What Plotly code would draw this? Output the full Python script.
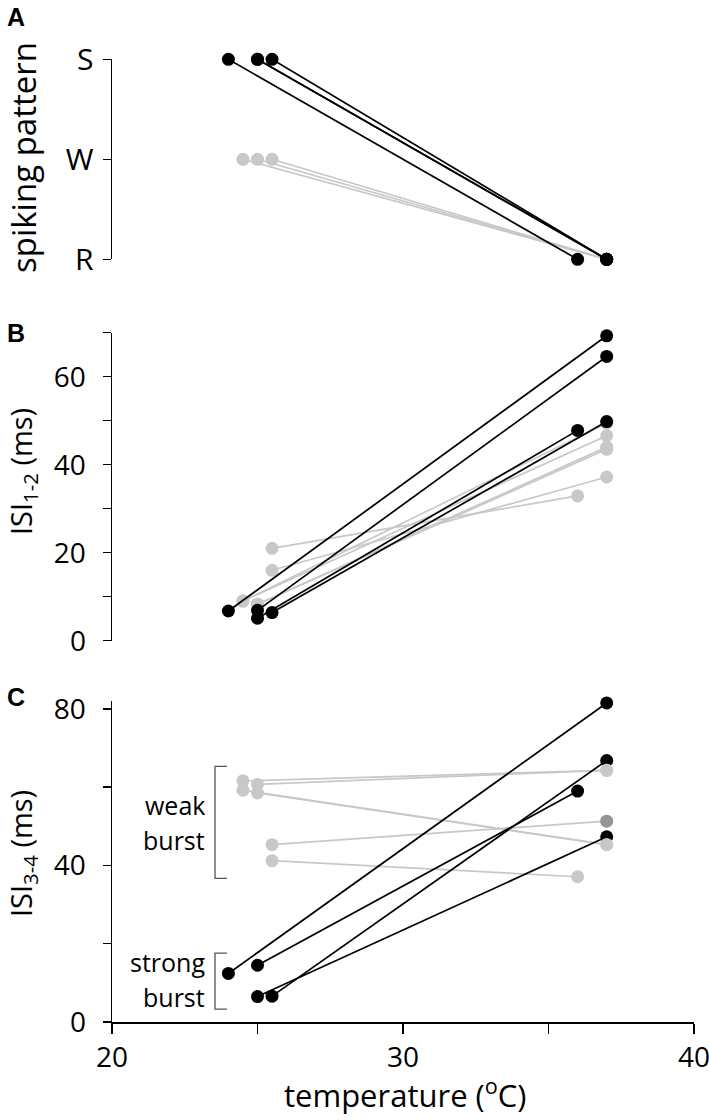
import plotly.graph_objects as go

W, H = 709, 1120
FONT = "Open Sans"
BLACK = "#000000"
GRAY = "#c8c8c8"
DARKGRAY = "#959595"

# ---------------- data ----------------
# Panel A: spiking pattern (categorical)
pattern_levels = ["R", "W", "S"]
a_black_cold_t = [24, 25, 25, 25.5]
a_black_cold = ["S", "S", "S", "S"]
a_black_warm_t = [36, 37, 37, 37]
a_black_warm = ["R", "R", "R", "R"]
a_gray_cold_t = [24.5, 25, 25.5]
a_gray_cold = ["W", "W", "W"]
a_gray_warm_t = [37, 37, 37]
a_gray_warm = ["R", "R", "R"]

# Panel B: ISI 1-2 (ms)
b_black_cold_t = [24, 25, 25, 25.5]
b_black_cold = [6.75, 6.9, 5.1, 6.4]
b_black_warm_t = [37, 37, 36, 37]
b_black_warm = [69.3, 64.6, 47.8, 49.8]
b_gray_cold_t = [24.5, 24.5, 25, 25, 25.5, 25.5]
b_gray_cold = [9.0, 9.0, 8.3, 8.3, 21.0, 16.0]
b_gray_warm_t = [37, 37, 37, 37, 36, 37]
b_gray_warm = [49.4, 46.6, 44.0, 43.5, 32.9, 37.2]

# Panel C: ISI 3-4 (ms)
c_black_cold_t = [24, 25, 25, 25.5]
c_black_cold = [12.4, 14.5, 6.5, 6.6]
c_black_warm_t = [37, 36, 37, 37]
c_black_warm = [81.5, 59.0, 47.3, 66.8]
c_gray_cold_t = [24.5, 24.5, 25, 25, 25.5, 25.5]
c_gray_cold = [61.6, 59.2, 60.7, 58.5, 45.3, 41.2]
c_gray_warm_t = [37, 37, 37, 37, 37, 36]
c_gray_warm = [64.3, 45.3, 64.3, 45.3, 51.3, 37.1]
c_gray_warm_color = [GRAY, GRAY, GRAY, GRAY, DARKGRAY, GRAY]

weak_burst_range = [36.7, 65.3]
strong_burst_range = [3.3, 17.6]

x_ticks = [20, 30, 40]
x_minor_step = 5
b_ticks = [0, 20, 40, 60]
b_minor_step = 10
c_ticks = [0, 40, 80]
c_minor_step = 20


def py(y):
    return 1 - y / H


def px(x):
    return x / W


fig = go.Figure()


def pairs(t0, v0, t1, v1):
    xs, ys = [], []
    for a, b, c, d in zip(t0, v0, t1, v1):
        xs += [a, c, None]
        ys += [b, d, None]
    return xs, ys


def add_lines(ax, t0, v0, t1, v1, color):
    xs, ys = pairs(t0, v0, t1, v1)
    fig.add_trace(go.Scatter(x=xs, y=ys, mode="lines", xaxis="x" + ax, yaxis="y" + ax,
                             line=dict(color=color, width=1.7), cliponaxis=False,
                             hoverinfo="skip", showlegend=False))


def add_pts(ax, t, v, color):
    fig.add_trace(go.Scatter(x=t, y=v, mode="markers", xaxis="x" + ax, yaxis="y" + ax,
                             marker=dict(color=color, size=13, line=dict(width=0)),
                             cliponaxis=False, showlegend=False))


# Panel A
add_lines("", a_gray_cold_t, a_gray_cold, a_gray_warm_t, a_gray_warm, GRAY)
add_pts("", a_gray_cold_t, a_gray_cold, GRAY)
add_pts("", a_gray_warm_t, a_gray_warm, GRAY)
add_lines("", a_black_cold_t, a_black_cold, a_black_warm_t, a_black_warm, BLACK)
add_pts("", a_black_cold_t, a_black_cold, BLACK)
add_pts("", a_black_warm_t, a_black_warm, BLACK)

# Panel B
add_lines("2", b_gray_cold_t, b_gray_cold, b_gray_warm_t, b_gray_warm, GRAY)
add_pts("2", b_gray_cold_t, b_gray_cold, GRAY)
add_pts("2", b_gray_warm_t, b_gray_warm, GRAY)
add_lines("2", b_black_cold_t, b_black_cold, b_black_warm_t, b_black_warm, BLACK)
add_pts("2", b_black_cold_t, b_black_cold, BLACK)
add_pts("2", b_black_warm_t, b_black_warm, BLACK)

# Panel C
add_lines("3", c_gray_cold_t, c_gray_cold, c_gray_warm_t, c_gray_warm, GRAY)
add_lines("3", c_black_cold_t, c_black_cold, c_black_warm_t, c_black_warm, BLACK)
add_pts("3", c_black_cold_t, c_black_cold, BLACK)
add_pts("3", c_black_warm_t, c_black_warm, BLACK)
add_pts("3", c_gray_cold_t, c_gray_cold, GRAY)
add_pts("3", c_gray_warm_t, c_gray_warm, c_gray_warm_color)

xdom = [px(112), px(694)]
ytickfont = dict(family=FONT, size=28, color="black")


def yax(domain, anchor, minor_step=None, **kw):
    d = dict(domain=domain, anchor=anchor, showline=True, linecolor="black",
             linewidth=1.5, ticks="outside", ticklen=8, tickwidth=1.5,
             tickcolor="black", showgrid=False, zeroline=False, tickfont=ytickfont,
             ticklabelstandoff=11, fixedrange=True, automargin=False,
             ticklabeloverflow="allow")
    if minor_step is not None:
        d["minor"] = dict(dtick=minor_step, tick0=0, ticks="outside", ticklen=8,
                          tickwidth=1.5, tickcolor="black", showgrid=False)
    d.update(kw)
    return d


hidden_x = dict(range=[20, 40], visible=False, fixedrange=True, automargin=False)

fig.update_layout(
    width=W, height=H,
    margin=dict(l=0, r=0, t=0, b=0, autoexpand=False),
    paper_bgcolor="white", plot_bgcolor="white",
    showlegend=False,
    xaxis=dict(domain=xdom, anchor="y", **hidden_x),
    xaxis2=dict(domain=xdom, anchor="y2", **hidden_x),
    xaxis3=dict(domain=xdom, anchor="y3", range=[20, 40], tickvals=x_ticks,
                minor=dict(dtick=x_minor_step, tick0=20, ticks="outside", ticklen=10,
                           tickwidth=1.5, tickcolor="black", showgrid=False),
                showline=True, linecolor="black", linewidth=1.5,
                ticks="outside", ticklen=10, tickwidth=1.5, tickcolor="black",
                showgrid=False, zeroline=False,
                tickfont=dict(family=FONT, size=28, color="black"),
                ticklabelstandoff=0, ticklabeloverflow="allow",
                fixedrange=True, automargin=False),
    yaxis=yax([py(259.3), py(59.3)], "x", type="category",
              categoryorder="array", categoryarray=pattern_levels, range=[0, 2],
              tickfont=dict(family=FONT, size=30, color="black"),
              ticklabelstandoff=3),
    yaxis2=yax([py(640.7), py(332.7)], "x2", b_minor_step, range=[0, 70],
               tickvals=b_ticks),
    yaxis3=yax([py(1022), py(701)], "x3", c_minor_step, range=[0, 82],
               tickvals=c_ticks),
)

ann = []
# panel letters
for letter, y in [("A", 17), ("B", 333), ("C", 697)]:
    ann.append(dict(text="<b>" + letter + "</b>", x=px(16), y=py(y), xref="paper",
                    yref="paper", showarrow=False, xanchor="center", yanchor="middle",
                    font=dict(family="Liberation Sans", size=25, color="black")))
# axis titles
ann.append(dict(text="spiking pattern", x=px(24), y=py(158), xref="paper", yref="paper",
                textangle=-90, showarrow=False, xanchor="center", yanchor="middle",
                font=dict(family=FONT, size=33, color="black")))
ann.append(dict(text="ISI<sub>1-2</sub> (ms)", x=px(22), y=py(472), xref="paper",
                yref="paper", textangle=-90, showarrow=False, xanchor="center",
                yanchor="middle", font=dict(family=FONT, size=29, color="black")))
ann.append(dict(text="ISI<sub>3-4</sub> (ms)", x=px(22), y=py(854), xref="paper",
                yref="paper", textangle=-90, showarrow=False, xanchor="center",
                yanchor="middle", font=dict(family=FONT, size=29, color="black")))
ann.append(dict(text="temperature (<sup>o</sup>C)", x=px(405), y=py(1093), xref="paper",
                yref="paper", showarrow=False, xanchor="center", yanchor="middle",
                font=dict(family=FONT, size=31, color="black")))
# burst labels
lab_font = dict(family=FONT, size=25, color="black")
for txt, y in [("weak", 805), ("burst", 840), ("strong", 962), ("burst", 997)]:
    ann.append(dict(text=txt, x=px(207), y=py(y), xref="paper", yref="paper",
                    showarrow=False, xanchor="right", yanchor="middle", font=lab_font))
fig.update_layout(annotations=ann)

# brackets
shapes = []
for lo, hi in [weak_burst_range, strong_burst_range]:
    shapes.append(dict(type="path", xref="paper", yref="y3",
                       path="M %f,%f L %f,%f L %f,%f L %f,%f" % (
                           px(227), hi, px(215), hi, px(215), lo, px(227), lo),
                       line=dict(color="#555555", width=1.3)))
fig.update_layout(shapes=shapes)

fig.write_html("out.html",
               config={"displayModeBar": False, "staticPlot": True},
               post_script="document.body.style.margin='0';document.body.style.padding='0';")
